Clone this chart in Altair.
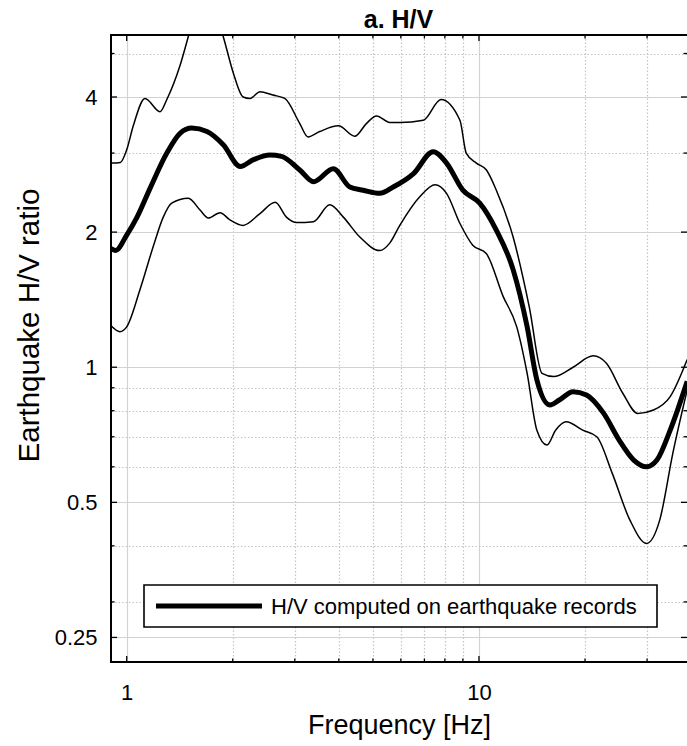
import altair as alt
import pandas as pd

# ---- H/V spectral ratio: mean and +/- one standard deviation ----
mean_freq = [0.90, 0.93, 1.0, 1.07, 1.164, 1.30, 1.417, 1.53, 1.69, 1.88, 2.10, 2.29,
             2.55, 2.75, 3.10, 3.39, 3.86, 4.30, 4.69, 5.23, 5.71, 6.52, 7.41, 8.09,
             9.0, 10.05, 11.2, 12.5, 13.7, 14.6, 15.9, 16.9, 18.5, 20.2, 22.6, 25.0,
             27.5, 29.9, 32.0, 34.9, 39.0]
mean_hv = [1.84, 1.82, 1.97, 2.16, 2.50, 3.00, 3.32, 3.41, 3.35, 3.13, 2.80, 2.90,
           2.97, 2.95, 2.75, 2.59, 2.77, 2.52, 2.48, 2.44, 2.52, 2.70, 3.02, 2.85,
           2.48, 2.32, 2.02, 1.65, 1.23, 0.937, 0.824, 0.845, 0.882, 0.867, 0.789, 0.688,
           0.621, 0.600, 0.621, 0.724, 0.93]

upper_freq = [0.90, 0.96, 1.0, 1.044, 1.127, 1.243, 1.30, 1.417, 1.50, 1.58, 1.66, 1.76,
              1.88, 2.008, 2.14, 2.24, 2.39, 2.60, 2.81, 3.10, 3.27, 3.53, 3.99, 4.44,
              4.79, 5.12, 5.58, 5.96, 6.95, 7.8, 8.83, 9.2, 9.83, 10.5, 11.2, 12.5,
              13.9, 15.1, 16.3, 18.5, 21.1, 23.0, 25.6, 28.2, 31.3, 34.9, 39.0]
upper_hv = [2.85, 2.86, 3.05, 3.45, 3.97, 3.71, 3.95, 4.70, 5.50, 6.40, 6.80, 6.40,
            5.45, 4.52, 4.00, 3.97, 4.11, 4.04, 3.97, 3.49, 3.26, 3.35, 3.45, 3.27,
            3.49, 3.63, 3.51, 3.51, 3.55, 3.95, 3.55, 3.00, 2.85, 2.75, 2.48, 1.95,
            1.36, 0.969, 0.953, 1.00, 1.06, 1.02, 0.875, 0.789, 0.803, 0.86, 1.04]

lower_freq = [0.90, 0.957, 1.0, 1.091, 1.19, 1.27, 1.342, 1.496, 1.615, 1.705, 1.84, 1.963,
              2.14, 2.39, 2.64, 2.84, 3.04, 3.39, 3.77, 4.12, 4.59, 5.23, 5.58, 5.96,
              6.8, 7.5, 8.09, 8.83, 9.6, 10.5, 11.7, 12.8, 13.7, 14.6, 15.6, 16.5,
              17.7, 19.7, 21.6, 23.9, 26.8, 29.9, 32.6, 35.5, 39.0]
lower_hv = [1.24, 1.20, 1.23, 1.49, 1.86, 2.16, 2.32, 2.38, 2.24, 2.15, 2.21, 2.13,
            2.07, 2.20, 2.33, 2.16, 2.10, 2.11, 2.30, 2.16, 1.95, 1.82, 1.89, 2.07,
            2.40, 2.55, 2.44, 2.09, 1.87, 1.79, 1.44, 1.23, 0.969, 0.724, 0.671, 0.724,
            0.756, 0.724, 0.70, 0.58, 0.457, 0.405, 0.457, 0.643, 0.89]

title_text = "a. H/V"
legend_label = "H/V computed on earthquake records"

x_major = [1, 10]
x_minor = [2, 3, 4, 5, 6, 7, 8, 9, 20, 30]
y_major = [0.25, 0.5, 1, 2, 4]
y_minor = [0.3, 0.4, 0.6, 0.7, 0.8, 0.9, 3, 5]

FONT = "Liberation Sans"
W, H = 576, 627

mean_df = pd.DataFrame({"f": mean_freq, "hv": mean_hv})
upper_df = pd.DataFrame({"f": upper_freq, "hv": upper_hv})
lower_df = pd.DataFrame({"f": lower_freq, "hv": lower_hv})

x_scale = alt.Scale(type="log", domain=[0.9025, 38.95], nice=False)
y_scale = alt.Scale(type="log", base=2, domain=[0.2204, 5.498], nice=False)

x_major_test = " || ".join(f"datum.value == {v}" for v in x_major)
y_major_test = " || ".join(f"datum.value == {v}" for v in y_major)

x_axis = alt.Axis(
    values=x_major + x_minor,
    labelExpr=f"({x_major_test}) ? '' + datum.value : ''",
    grid=True,
    gridColor=alt.condition(x_major_test, alt.value("#d2d2d2"), alt.value("#c4c4c4")),
    gridDash=alt.condition(x_major_test, alt.value([]), alt.value([1.5, 2])),
    gridWidth=1.2,
    ticks=False, tickSize=0, domain=False,
    labelFont=FONT, labelFontSize=22, labelColor="black",
    labelBaseline="alphabetic", labelPadding=37,
    title="Frequency [Hz]", titleFont=FONT, titleFontSize=27,
    titleFontWeight="normal", titleColor="black",
    titleBaseline="alphabetic", titleY=71,
)
y_axis = alt.Axis(
    values=y_major + y_minor,
    labelExpr=f"({y_major_test}) ? '' + datum.value : ''",
    grid=True,
    gridColor=alt.condition(y_major_test, alt.value("#d2d2d2"), alt.value("#c4c4c4")),
    gridDash=alt.condition(y_major_test, alt.value([]), alt.value([1.5, 2])),
    gridWidth=1.2,
    ticks=False, tickSize=0, domain=False,
    labelFont=FONT, labelFontSize=22, labelColor="black",
    labelBaseline="middle", labelPadding=14,
    title="Earthquake H/V ratio", titleFont=FONT, titleFontSize=29.5,
    titleFontWeight="normal", titleColor="black",
    titleBaseline="alphabetic", titleX=-73, titleY=290, titleAngle=270,
)

X = alt.X("f:Q", scale=x_scale, axis=x_axis)
Y = alt.Y("hv:Q", scale=y_scale, axis=y_axis)


def curve(df, width):
    return alt.Chart(df).mark_line(
        color="black", strokeWidth=width, clip=True, interpolate="monotone"
    ).encode(x=X, y=Y, order="f:Q")


def x_ticks(values, length):
    df = pd.DataFrame({"f": values})
    bottom = alt.Chart(df).mark_rule(color="black", strokeWidth=1.3).encode(
        x=X, y=alt.value(H), y2=alt.value(H - length))
    top = alt.Chart(df).mark_rule(color="black", strokeWidth=1.3).encode(
        x=X, y=alt.value(0), y2=alt.value(length))
    return [bottom, top]


def y_ticks(values, length):
    df = pd.DataFrame({"hv": values})
    left = alt.Chart(df).mark_rule(color="black", strokeWidth=1.3).encode(
        y=Y, x=alt.value(0), x2=alt.value(length))
    right = alt.Chart(df).mark_rule(color="black", strokeWidth=1.3, clip=True).encode(
        y=Y, x=alt.value(W), x2=alt.value(W - length))
    return [left, right]


# axes frame: left, top and bottom edges (the right edge sits at the page border)
frame_df = pd.DataFrame({"edge": ["frame"]})
frame = [
    alt.Chart(frame_df).mark_rule(color="black", strokeWidth=2).encode(
        x=alt.value(0), y=alt.value(0), y2=alt.value(H)),
    alt.Chart(frame_df).mark_rule(color="black", strokeWidth=2).encode(
        x=alt.value(-1), x2=alt.value(W), y=alt.value(0)),
    alt.Chart(frame_df).mark_rule(color="black", strokeWidth=2).encode(
        x=alt.value(-1), x2=alt.value(W), y=alt.value(H)),
]

# legend panel for the mean curve
legend_df = pd.DataFrame({"label": [legend_label]})
legend_box = alt.Chart(legend_df).mark_rect(
    fill="white", stroke="black", strokeWidth=1.6
).encode(x=alt.value(33), x2=alt.value(546), y=alt.value(550), y2=alt.value(592))
legend_line = alt.Chart(legend_df).mark_rule(color="black", strokeWidth=5).encode(
    x=alt.value(45), x2=alt.value(151), y=alt.value(571))
legend_text = alt.Chart(legend_df).mark_text(
    align="left", baseline="middle", font=FONT, fontSize=22, color="black"
).encode(x=alt.value(160), y=alt.value(572), text="label:N")

# panel title, placed just above the frame
title_df = pd.DataFrame({"t": [title_text]})
title_mark = alt.Chart(title_df).mark_text(
    align="center", baseline="alphabetic", font=FONT, fontSize=25,
    fontWeight="bold", color="black"
).encode(x=alt.value(W / 2 - 0.5), y=alt.value(-7), text="t:N")

layers = [curve(mean_df, 5), curve(upper_df, 1.5), curve(lower_df, 1.5)]
layers += x_ticks(x_major, 6) + x_ticks(x_minor, 3.5)
layers += y_ticks(y_major, 6) + y_ticks(y_minor, 3.5)
layers += frame
layers += [legend_box, legend_line, legend_text, title_mark]

chart = alt.layer(*layers).properties(
    width=W,
    height=H,
    autosize=alt.AutoSizeParams(type="none"),
    padding={"left": 111, "top": 35, "right": 0, "bottom": 84},
    background="white",
).configure_view(stroke=None)

chart.save("out.html", embed_options={"renderer": "svg", "actions": False})
